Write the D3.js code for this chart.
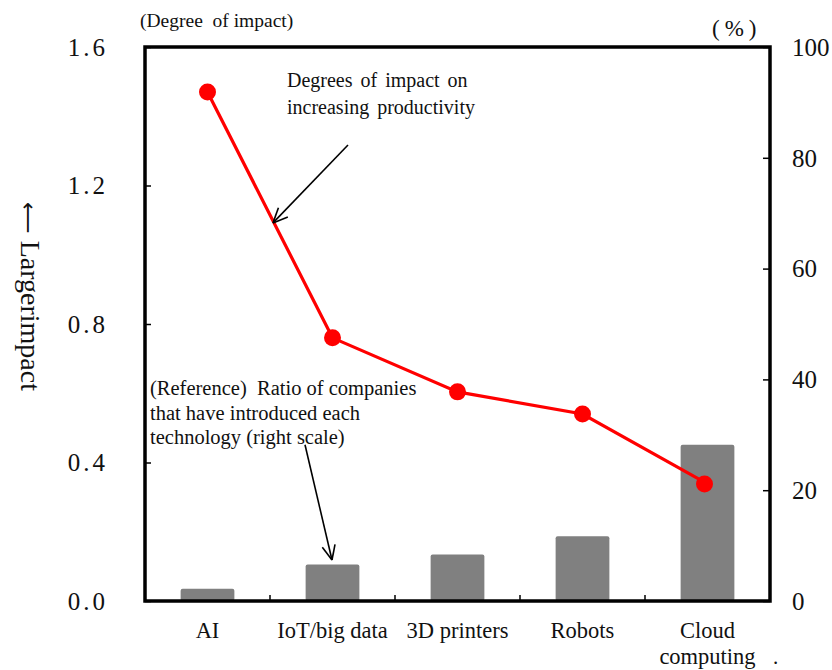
<!DOCTYPE html>
<html><head><meta charset="utf-8">
<script src="https://cdn.jsdelivr.net/npm/d3@7"></script>
<style>body{margin:0;background:#fff}text{font-family:"Liberation Serif","Times New Roman",serif;fill:#111;white-space:pre}</style>
</head><body><svg id="c" width="832" height="670"></svg>
<script>
const categories = ["AI","IoT/big data","3D printers","Robots","Cloud computing"];
const impact = [1.47, 0.76, 0.604, 0.54, 0.338];          // left scale
const adoptionPct = [2.2, 6.6, 8.4, 11.7, 28.2];          // right scale (%)
const leftTicks = [0, 0.4, 0.8, 1.2, 1.6];
const rightTicks = [0, 20, 40, 60, 80, 100];

const svg = d3.select("#c");
const L = 145, R = 770, T = 47, B = 601;
const x = d3.scaleBand().domain(categories).range([L, R]).paddingInner(0.57).paddingOuter(0.285);
const yL = d3.scaleLinear().domain([0, 1.6]).range([B, T]);
const yR = d3.scaleLinear().domain([0, 100]).range([B, T]);
const cx = i => x(categories[0]) + x.bandwidth()/2 + i * x.step();

// bars
svg.append("g").selectAll("rect").data(categories).join("rect")
  .attr("x", d => x(d)).attr("width", x.bandwidth())
  .attr("y", (d,i) => yR(adoptionPct[i])).attr("height", (d,i) => B - yR(adoptionPct[i]))
  .attr("rx", 2).attr("fill", "#808080");

// line
svg.append("path").datum(impact)
  .attr("d", d3.line().x((d,i) => cx(i)).y(d => yL(d)))
  .attr("fill","none").attr("stroke","#ff0000").attr("stroke-width",3.2);
svg.append("g").selectAll("circle").data(impact).join("circle")
  .attr("cx",(d,i)=>cx(i)-(i===4?3:0)).attr("cy",d=>yL(d)).attr("r",8.5).attr("fill","#ff0000");

// axes
const fmt = d3.format(".1f");
const gl = svg.append("g").attr("transform",`translate(${L},0)`)
  .call(d3.axisRight(yL).tickValues(leftTicks).tickSize(6).tickFormat(""));
gl.select(".domain").remove();
gl.selectAll(".tick line").attr("stroke","#000").attr("stroke-width",1.5);
svg.append("g").selectAll("text").data(leftTicks).join("text")
  .attr("x", 108).attr("y", d => yL(d)).attr("dy","0.35em").attr("text-anchor","end")
  .attr("font-size",25).attr("letter-spacing",3).text(d => fmt(d));

const gr = svg.append("g").attr("transform",`translate(${R},0)`)
  .call(d3.axisLeft(yR).tickValues(rightTicks).tickSize(7).tickFormat(""));
gr.select(".domain").remove();
gr.selectAll(".tick line").attr("stroke","#000").attr("stroke-width",1.5);
svg.append("g").selectAll("text").data(rightTicks).join("text")
  .attr("x", 792).attr("y", d => yR(d)).attr("dy","0.35em").attr("text-anchor","start")
  .attr("font-size",25).text(d => d);

// category boundary ticks
svg.append("g").selectAll("line").data(categories.slice(1)).join("line")
  .attr("x1",(d,i)=>cx(i)+x.step()/2).attr("x2",(d,i)=>cx(i)+x.step()/2)
  .attr("y1",B).attr("y2",B-6).attr("stroke","#000").attr("stroke-width",1.5);

// frame
svg.append("rect").attr("x",L).attr("y",T).attr("width",R-L).attr("height",B-T)
  .attr("fill","none").attr("stroke","#000").attr("stroke-width",3.5);

// category labels
const catG = svg.append("g");
categories.forEach((c,i) => {
  const t = catG.append("text").attr("x", cx(i)).attr("y", 638).attr("text-anchor","middle").attr("font-size",22.5);
  const parts = c === "Cloud computing" ? ["Cloud","computing"] : [c];
  parts.forEach((p,j) => t.append("tspan").attr("x", cx(i)).attr("dy", j ? 26 : 0).text(p));
});
svg.append("text").attr("x",773).attr("y",664).attr("font-size",21).text(".");

// titles
svg.append("text").attr("x",140).attr("y",27).attr("font-size",19.5).text("(Degree  of impact)");
svg.append("text").attr("x",712).attr("y",36).attr("font-size",23).attr("letter-spacing",5).text("(%)");
svg.append("g").attr("transform",`translate(21,${(200+393)/2}) rotate(90)`)
  .append("text").attr("text-anchor","middle").attr("font-size",28)
  .call(t => { t.append("tspan").attr("font-family","DejaVu Sans").attr("font-size",22).text("⟵"); t.append("tspan").text(" Largerimpact"); });

// annotations
function arrow(x1,y1,x2,y2){
  svg.append("line").attr("x1",x1).attr("y1",y1).attr("x2",x2).attr("y2",y2).attr("stroke","#000").attr("stroke-width",1.6);
  const a = Math.atan2(y2-y1,x2-x1), len=16, sp=0.42;
  [a+Math.PI-sp, a+Math.PI+sp].forEach(b => svg.append("line").attr("x1",x2).attr("y1",y2)
    .attr("x2",x2+len*Math.cos(b)).attr("y2",y2+len*Math.sin(b)).attr("stroke","#000").attr("stroke-width",1.6));
}
const t1 = svg.append("text").attr("font-size",20).attr("word-spacing",3);
["Degrees of impact on","increasing productivity"].forEach((s,j)=>t1.append("tspan").attr("x",287).attr("y",87+j*26.5).text(s));
arrow(cx(1.124), yL(1.317), cx(0.524), yL(1.092));

const t2 = svg.append("text").attr("font-size",20.5);
["(Reference)  Ratio of companies","that have introduced each","technology (right scale)"].forEach((s,j)=>t2.append("tspan").attr("x",150).attr("y",395+j*24.5).text(s));
arrow(cx(0.78), yR(28.2), cx(0.996), yR(7.4));
</script></body></html>
